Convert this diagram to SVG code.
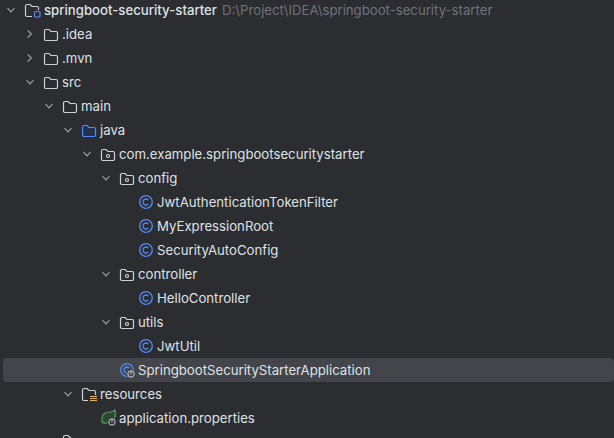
<svg xmlns="http://www.w3.org/2000/svg" xmlns:xlink="http://www.w3.org/1999/xlink" width="614" height="438" viewBox="0 0 614 438">
<style>
text{font-family:"Inter","Noto Sans","Liberation Sans",sans-serif;font-size:13.2px;fill:#dfe1e5}
.hint{fill:#6f737a}
.root{font-weight:500}
.ic{fill:none;stroke:#ced0d6;stroke-width:1.2}
.chev{fill:none;stroke:#9da0a8;stroke-width:1.2}
.cl{fill:none;stroke:#548af7;stroke-width:1.3}
</style>
<defs>
<path id="fold" d="M0.5 3A1.5 1.5 0 0 1 2 1.5H5L7 3.5H12A1.5 1.5 0 0 1 13.5 5V11A1.5 1.5 0 0 1 12 12.5H2A1.5 1.5 0 0 1 0.5 11Z"/>
<g id="dn"><path class="chev" d="M-3.5 -1.8L0 1.8L3.5 -1.8"/></g>
<g id="rt"><path class="chev" d="M-1.8 -3.5L1.8 0L-1.8 3.5"/></g>
<g id="folder"><use xlink:href="#fold" class="ic"/></g>
<g id="pkg"><use xlink:href="#fold" class="ic"/><circle cx="7" cy="8" r="1.5" class="ic"/></g>
<g id="cls"><circle cx="7" cy="7" r="6.3" class="cl"/><path class="cl" d="M9.4 5.2A3 3 0 1 0 9.4 8.8"/></g>
</defs>
<rect width="614" height="438" fill="#2b2d30"/>
<g id="selection"><rect x="3" y="358" width="611" height="24" rx="4" fill="#43454a"/></g>
<g id="connectors">
<use xlink:href="#dn" x="11" y="10"/>
<use xlink:href="#rt" x="29.500" y="34"/>
<use xlink:href="#rt" x="29.500" y="58"/>
<use xlink:href="#dn" x="30" y="82"/>
<use xlink:href="#dn" x="49" y="106"/>
<use xlink:href="#dn" x="68" y="130"/>
<use xlink:href="#dn" x="87" y="154"/>
<use xlink:href="#dn" x="106" y="178"/>
<use xlink:href="#dn" x="106" y="274"/>
<use xlink:href="#dn" x="106" y="322"/>
<use xlink:href="#dn" x="68" y="394"/>
</g>
<g id="n-root"><path class="ic" d="M32 16.500H27A1.500 1.500 0 0 1 25.500 15V6A1.500 1.500 0 0 1 27 4.500H30L32 6.500H37A1.500 1.500 0 0 1 38.500 8V10"/><rect x="34.500" y="11.500" width="5.500" height="5.500" rx="1" fill="none" stroke="#548af7" stroke-width="1.200"/><text class="root" x="44" y="15">springboot-security-starter</text><text class="hint" x="222" y="15">D:\Project\IDEA\springboot-security-starter</text></g>
<g id="n-idea"><use xlink:href="#folder" x="44" y="28"/><text x="62" y="39">.idea</text></g>
<g id="n-mvn"><use xlink:href="#folder" x="44" y="52"/><text x="62" y="63">.mvn</text></g>
<g id="n-src"><use xlink:href="#folder" x="44" y="76"/><text x="62" y="87">src</text></g>
<g id="n-main"><use xlink:href="#folder" x="63" y="100"/><text x="81" y="111">main</text></g>
<g id="n-java"><path transform="translate(82 124)" d="M0.500 3A1.500 1.500 0 0 1 2 1.500H5L7 3.500H12A1.500 1.500 0 0 1 13.500 5V11A1.500 1.500 0 0 1 12 12.500H2A1.500 1.500 0 0 1 0.500 11Z" fill="#25324d" stroke="#548af7" stroke-width="1.200"/><text x="100" y="135">java</text></g>
<g id="n-com"><use xlink:href="#pkg" x="101" y="148"/><text x="119" y="159">com.example.springbootsecuritystarter</text></g>
<g id="n-config"><use xlink:href="#pkg" x="120" y="172"/><text x="138" y="183">config</text></g>
<g id="n-jwtfilter"><use xlink:href="#cls" x="139" y="195"/><text x="157" y="207">JwtAuthenticationTokenFilter</text></g>
<g id="n-myexpr"><use xlink:href="#cls" x="139" y="219"/><text x="157" y="231">MyExpressionRoot</text></g>
<g id="n-secauto"><use xlink:href="#cls" x="139" y="243"/><text x="157" y="255">SecurityAutoConfig</text></g>
<g id="n-controller"><use xlink:href="#pkg" x="120" y="268"/><text x="138" y="279">controller</text></g>
<g id="n-hello"><use xlink:href="#cls" x="139" y="291"/><text x="157" y="303">HelloController</text></g>
<g id="n-utils"><use xlink:href="#pkg" x="120" y="316"/><text x="138" y="327">utils</text></g>
<g id="n-jwtutil"><use xlink:href="#cls" x="139" y="339"/><text x="157" y="351">JwtUtil</text></g>
<g id="n-app"><use xlink:href="#cls" x="120" y="363"/><circle cx="131" cy="374" r="4.500" fill="#43454a"/><circle cx="131" cy="374" r="3.200" fill="none" stroke="#ced0d6" stroke-width="1"/><path d="M131 371V374.500" stroke="#ced0d6" stroke-width="1"/><text x="138" y="375">SpringbootSecurityStarterApplication</text></g>
<g id="n-resources"><path class="ic" d="M88 400.500H84A1.500 1.500 0 0 1 82.500 399V390A1.500 1.500 0 0 1 84 388.500H87L89 390.500H94A1.500 1.500 0 0 1 95.500 392V395"/><path d="M90 396.500H97M90 398.500H97M90 400.500H97" stroke="#f2c55c" stroke-width="0.900"/><text x="100" y="399">resources</text></g>
<g id="n-props"><path d="M102 418C102 414 106 412 110 412C113 412 115 410 115 410C116 415 115 419 112 421C109 423 104 424 102 422Z" fill="#2a4a30" stroke="#5e9b5e" stroke-width="1.100"/><circle cx="112" cy="422" r="4.500" fill="#2b2d30"/><circle cx="112" cy="422" r="3.200" fill="none" stroke="#ced0d6" stroke-width="1"/><path d="M112 419V422.500" stroke="#ced0d6" stroke-width="1"/><text x="119" y="423">application.properties</text></g>
<g id="n-next"><path class="ic" d="M63.500 438V437A1.500 1.500 0 0 1 65 435.500H68L70 437.500H71"/></g>
</svg>
